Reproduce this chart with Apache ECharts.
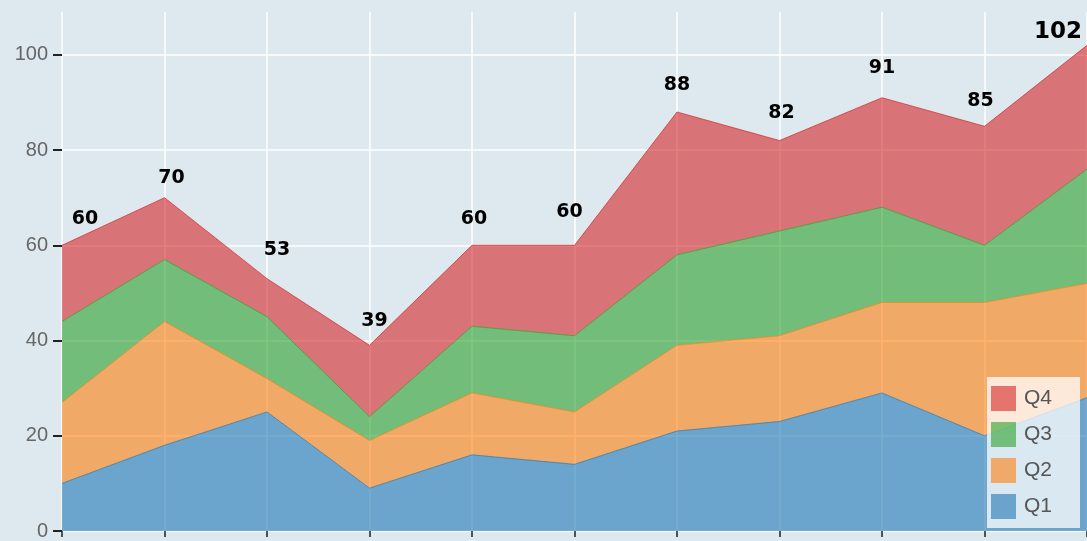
<!DOCTYPE html>
<html>
<head>
<meta charset="utf-8">
<script src="https://cdn.jsdelivr.net/npm/echarts@6/dist/echarts.min.js"></script>
<style>
html,body{margin:0;padding:0;background:#dde9ef;}
#c{width:1087px;height:541px;}
</style>
</head>
<body>
<div id="c"></div>
<script>
const categories = ['1','2','3','4','5','6','7','8','9','10','11'];
const q1 = [10,18,25,9,16,14,21,23,29,20,28];
const q2 = [17,26,7,10,13,11,18,18,19,28,24];
const q3 = [17,13,13,5,14,16,19,22,20,12,24];
const q4 = [16,13,8,15,17,19,30,19,23,25,26];
const seriesNames = ['Q1','Q2','Q3','Q4'];
const yTicks = [0,20,40,60,80,100];

// ---- style / layout (not data) ----
const colors = ['#1f77b4','#ff7f0e','#2ca02c','#d62728'];
const labelNudge = [[23,0],[7,7],[10,-2],[5,2],[2,0],[-5,-7],[0,0],[2,-1],[0,-3],[-4,1],[-29,15]];

const totals = categories.map((_, i) => q1[i] + q2[i] + q3[i] + q4[i]);
const values = [q1, q2, q3, q4];

const chart = echarts.init(document.getElementById('c'));
const series = values.map((v, k) => ({
  name: seriesNames[k],
  type: 'line',
  stack: 'total',
  symbol: 'circle',
  symbolSize: 0.1,
  showSymbol: true,
  data: v.map((val, i) => {
    if (k !== 3) return val;
    const lbl = {offset: labelNudge[i]};
    if (i === v.length - 1) lbl.fontSize = 23;
    return {value: val, label: lbl};
  }),
  lineStyle: {color: colors[k], width: 1, opacity: 0.7},
  itemStyle: {color: 'rgba(0,0,0,0)', borderWidth: 0},
  areaStyle: {color: colors[k], opacity: 0.6},
  label: k === 3 ? {
    show: true,
    position: 'top',
    distance: 17,
    formatter: p => totals[p.dataIndex],
    color: '#000',
    fontFamily: 'DejaVu Sans',
    fontWeight: 'bold',
    fontSize: 19
  } : {show: false},
  emphasis: {disabled: true},
  z: 2
}));

chart.setOption({
  backgroundColor: '#dde9ef',
  animation: false,
  color: colors,
  grid: {left: 62, right: 0, top: 12, bottom: 6, containLabel: false},
  legend: {
    data: ['Q4','Q3','Q2','Q1'].map(n => ({name: n, itemStyle: {color: colors[seriesNames.indexOf(n)], opacity: 0.6}})),
    orient: 'vertical',
    right: 7,
    bottom: 13,
    backgroundColor: 'rgba(255,255,255,0.75)',
    padding: [9, 28, 9, 4],
    itemWidth: 25,
    itemHeight: 25,
    itemGap: 11,
    icon: 'rect',
    textStyle: {color: '#555', fontSize: 21, fontFamily: 'Liberation Sans', padding: [0, 0, 0, 3]}
  },
  xAxis: {
    type: 'category',
    data: categories,
    boundaryGap: false,
    axisLine: {show: true, lineStyle: {color: '#ffffff', width: 1}},
    axisTick: {show: true, length: 6, lineStyle: {color: '#222', width: 1.5}},
    axisLabel: {show: false},
    splitLine: {show: true, lineStyle: {color: '#ffffff', width: 1.5}}
  },
  yAxis: {
    type: 'value',
    min: 0,
    max: 109,
    interval: 20,
    axisLine: {show: false},
    axisTick: {show: true, length: 9, customValues: yTicks, lineStyle: {color: '#222', width: 2}},
    axisLabel: {show: true, customValues: yTicks, color: '#666', fontSize: 20, fontFamily: 'Liberation Sans', margin: 14},
    splitLine: {show: true, lineStyle: {color: ['#fff','#fff','#fff','#fff','#fff','#fff','rgba(0,0,0,0)'], width: 1.5}}
  },
  series: series
});
</script>
</body>
</html>
